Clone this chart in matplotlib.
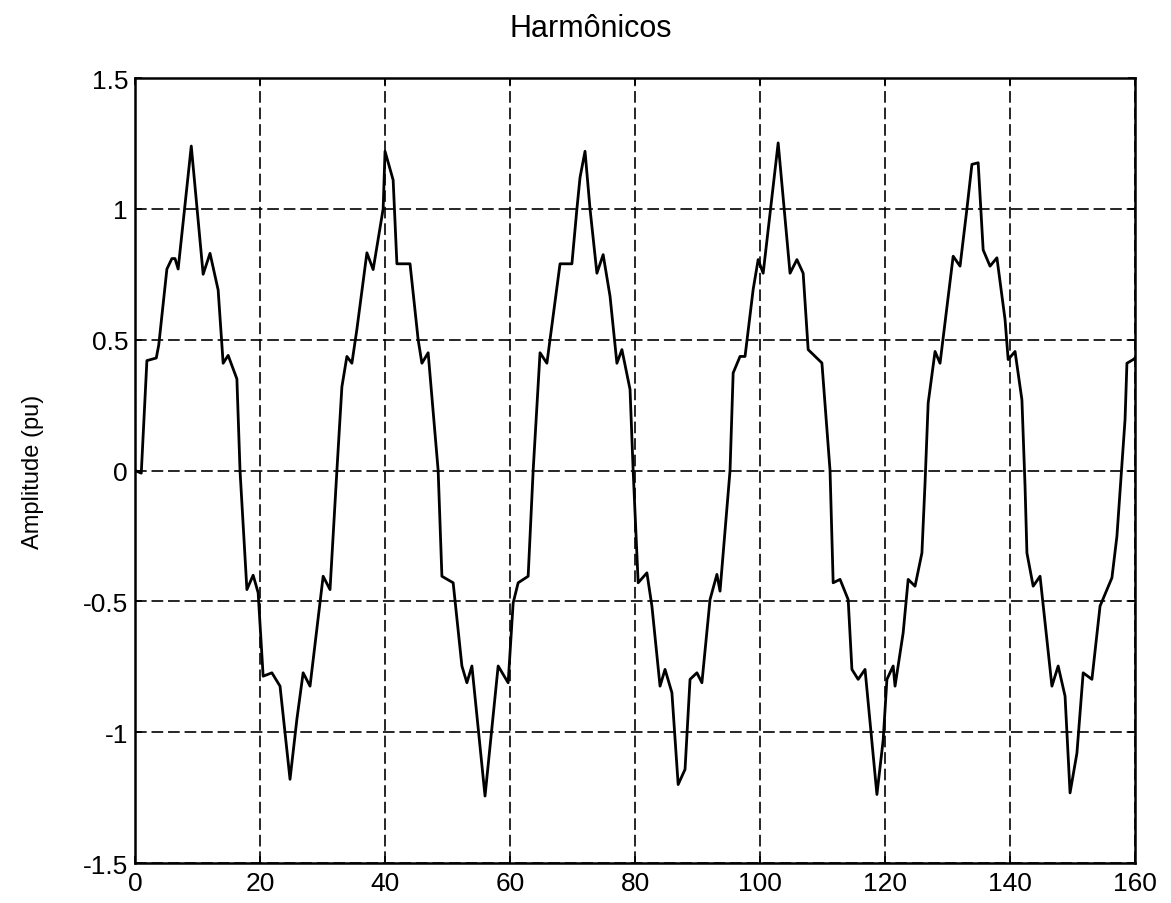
import matplotlib.pyplot as plt

# vertices of the traced waveform (x = sample position, y = amplitude in pu)
t = [0, 1.0, 1.9, 3.4, 3.8, 5.1, 5.9, 6.4, 6.9, 9.0, 10.9, 12.0, 13.3, 14.1, 14.9, 16.3,
     16.8, 17.9, 18.9, 19.7, 20.5, 21.9, 23.2, 24.8, 25.9, 26.9, 28.0, 30.1, 31.2,
     32.3, 33.1, 33.9, 34.7, 35.5, 37.1, 38.1, 39.7, 40.0, 41.3, 41.9, 44.0, 45.3, 45.9, 46.9,
     48.5, 49.1, 50.9, 52.3, 53.1, 53.9, 56.0, 58.1, 59.7, 60.5, 61.3, 62.9,
     63.7, 64.8, 65.9, 68.0, 69.9, 70.7, 71.2, 72.0, 72.8, 73.9, 74.9, 76.0, 77.1, 77.9, 79.2,
     79.7, 80.5, 81.9, 82.7, 84.0, 84.8, 85.9, 86.9, 88.0, 88.8, 89.9, 90.7, 92.0, 93.1, 93.6,
     95.2, 95.7, 96.8, 97.6, 98.9, 99.7, 100.5, 102.9, 104.8, 105.9, 106.9, 107.7, 109.9,
     111.2, 111.7, 112.8, 114.1, 114.7, 115.7, 116.8, 118.7, 119.7, 120.3, 121.3, 121.6,
     122.9, 123.7, 124.8, 125.9, 126.4,
     126.9, 128.0, 128.8, 130.9, 132.0, 133.1, 133.9, 134.9, 135.7, 136.8, 137.9, 139.2,
     139.7, 140.8, 141.9, 142.4,
     142.7, 143.7, 144.8, 146.7, 147.7, 148.8, 149.6, 150.7, 151.7, 153.1, 154.4, 156.3,
     157.1, 158.4, 158.7, 159.7, 160.0]
amp = [0.0, -0.01, 0.42, 0.43, 0.48, 0.77, 0.81, 0.81, 0.77, 1.24, 0.75, 0.83, 0.69, 0.41, 0.44, 0.35,
       0.0, -0.455, -0.40, -0.467, -0.786, -0.773, -0.824, -1.18, -0.95, -0.773, -0.824, -0.404, -0.455,
       0.0, 0.32, 0.436, 0.41, 0.54, 0.832, 0.768, 1.0, 1.22, 1.11, 0.79, 0.79, 0.50, 0.41, 0.45,
       0.0, -0.404, -0.429, -0.747, -0.811, -0.747, -1.244, -0.747, -0.811, -0.506, -0.429, -0.404,
       0.0, 0.45, 0.41, 0.79, 0.79, 1.0, 1.12, 1.22, 1.0, 0.754, 0.825, 0.666, 0.41, 0.462, 0.31,
       0.0, -0.429, -0.391, -0.518, -0.824, -0.76, -0.849, -1.20, -1.142, -0.798, -0.773, -0.811, -0.493, -0.397, -0.461,
       0.0, 0.373, 0.436, 0.436, 0.692, 0.806, 0.754, 1.252, 0.754, 0.806, 0.754, 0.462, 0.411,
       0.0, -0.429, -0.416, -0.493, -0.76, -0.798, -0.76, -1.238, -1.03, -0.798, -0.747, -0.824,
       -0.62, -0.416, -0.442, -0.315, -0.048,
       0.258, 0.455, 0.41, 0.819, 0.781, 1.0, 1.17, 1.176, 0.843, 0.781, 0.813, 0.577,
       0.424, 0.455, 0.27, -0.06,
       -0.315, -0.442, -0.404, -0.824, -0.747, -0.862, -1.232, -1.08, -0.773, -0.798, -0.518, -0.41,
       -0.251, 0.195, 0.41, 0.424, 0.43]

xticks = [0, 20, 40, 60, 80, 100, 120, 140, 160]
yticks = [-1.5, -1, -0.5, 0, 0.5, 1, 1.5]
yticklabels = ['-1.5', '-1', '-0.5', '0', '0.5', '1', '1.5']

plt.rcParams['font.family'] = ['Liberation Sans', 'DejaVu Sans']

fig = plt.figure(figsize=(11.71, 9.04), dpi=100)
ax = fig.add_axes([0.1153, 0.0442, 0.854, 0.8684])

ax.plot(t, amp, color='black', linewidth=2.0)

ax.set_xlim(0, 160)
ax.set_ylim(-1.5, 1.5)
ax.set_xticks(xticks)
ax.set_yticks(yticks)
ax.set_yticklabels(yticklabels)
ax.grid(True, color='black', linestyle=(0, (6, 2.5)), linewidth=1.4, alpha=0.85)
ax.tick_params(direction='in', top=True, right=True, length=5, width=1.2,
               labelsize=19)
ax.tick_params(axis='y', pad=5)
ax.tick_params(axis='x', pad=6)
for s in ax.spines.values():
    s.set_linewidth(1.8)

ax.set_title('Harmônicos', fontsize=22, x=0.456, pad=30)
ax.set_ylabel('Amplitude (pu)', fontsize=17)
ax.yaxis.set_label_coords(-0.091, 0.5)

fig.savefig('out.png', dpi=100)
